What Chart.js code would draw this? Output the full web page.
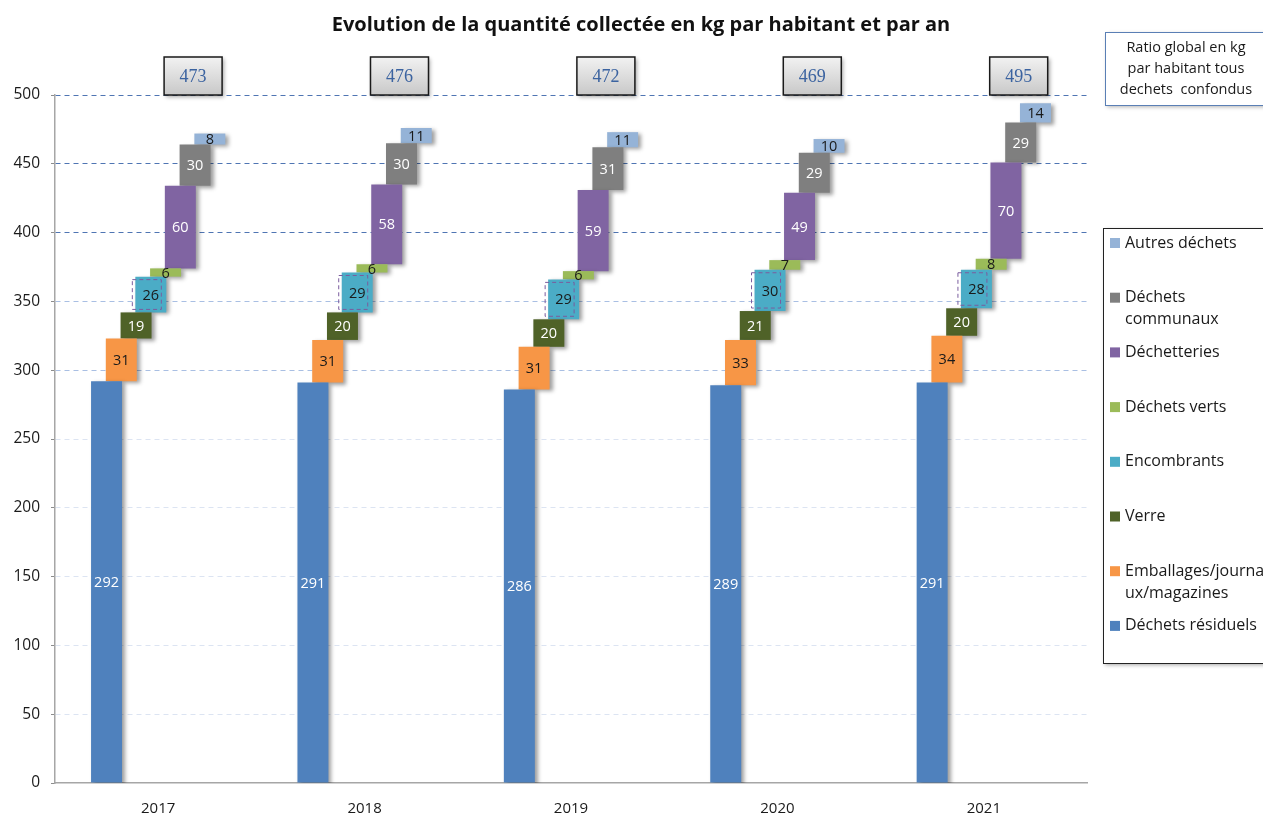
<!DOCTYPE html>
<html lang="fr">
<head>
<meta charset="utf-8">
<title>Evolution de la quantité collectée</title>
<script src="https://cdn.jsdelivr.net/npm/chart.js@4/dist/chart.umd.min.js"></script>
<style>
  html, body { margin: 0; padding: 0; background: #fff; }
  #wrap { position: relative; width: 1263px; height: 816px; }
</style>
</head>
<body>
<div id="wrap"><canvas id="chart" width="1263" height="816"></canvas></div>
<script>
// data (kg / habitant / an)
const years = ["2017", "2018", "2019", "2020", "2021"];
const residuels   = [292, 291, 286, 289, 291];
const emballages  = [31, 31, 31, 33, 34];
const verre       = [19, 20, 20, 21, 20];
const encombrants = [26, 29, 29, 30, 28];
const dechetsVerts = [6, 6, 6, 7, 8];
const dechetteries = [60, 58, 59, 49, 70];
const communaux   = [30, 30, 31, 29, 29];
const autres      = [8, 11, 11, 10, 14];
const totals      = [473, 476, 472, 469, 495];
const yTicks      = [0, 50, 100, 150, 200, 250, 300, 350, 400, 450, 500];

const seriesNames = ["Déchets résiduels", "Emballages/journaux/magazines", "Verre", "Encombrants",
  "Déchets verts", "Déchetteries", "Déchets communaux", "Autres déchets"];
const legendLines = [["Déchets résiduels"], ["Emballages/journa", "ux/magazines"], ["Verre"], ["Encombrants"],
  ["Déchets verts"], ["Déchetteries"], ["Déchets", "communaux"], ["Autres déchets"]];
const seriesValues = [residuels, emballages, verre, encombrants, dechetsVerts, dechetteries, communaux, autres];
const colors = ["#4F81BD", "#F79646", "#4F6228", "#4BACC6", "#9BBB59", "#8064A2", "#7F7F7F", "#95B3D7"];
const labelColors = ["#fff", "#1a1a1a", "#fff", "#1a1a1a", "#1a1a1a", "#fff", "#fff", "#1a1a1a"];

const FONT = "'Open Sans', 'Noto Sans', sans-serif";

// build floating bars: each step starts where the previous one ended
const datasets = seriesValues.map((vals, s) => ({
  label: seriesNames[s],
  data: vals.map((v, i) => {
    let start = 0;
    for (let k = 0; k < s; k++) start += seriesValues[k][i];
    return [start, start + v];
  }),
  backgroundColor: colors[s],
  borderWidth: 0,
  categoryPercentage: 0.572,
  barPercentage: 2.1
}));

const waterfallPlugin = {
  id: "waterfall",
  beforeDatasetsDraw(chart) {
    const ctx = chart.ctx;
    ctx.save();
    ctx.shadowColor = "rgba(0,0,0,0.38)";
    ctx.shadowBlur = 4;
    ctx.shadowOffsetX = 3;
    ctx.shadowOffsetY = 2;
  },
  afterDatasetsDraw(chart) {
    const ctx = chart.ctx;
    ctx.restore();
    const yScale = chart.scales.y;

    // value labels
    ctx.save();
    ctx.font = "14.5px " + FONT;
    ctx.textAlign = "center";
    ctx.textBaseline = "middle";
    chart.data.datasets.forEach((ds, s) => {
      const meta = chart.getDatasetMeta(s);
      meta.data.forEach((el, i) => {
        const cy = (el.y + el.base) / 2;
        if (s === 3) {
          // dashed selection frame around the "Encombrants" label
          ctx.save();
          ctx.setLineDash([4, 3]);
          ctx.strokeStyle = "#7A5C9E";
          ctx.lineWidth = 1;
          ctx.strokeRect(el.x - el.width / 2 - 3, el.y + 3, el.width - 2, el.base - el.y - 6);
          ctx.restore();
        }
        ctx.fillStyle = labelColors[s];
        ctx.fillText(String(seriesValues[s][i]), el.x, cy + 1);
      });
    });
    ctx.restore();

    // total boxes above the bars
    const top = yScale.getPixelForValue(500);
    const anchor = chart.getDatasetMeta(6);
    ctx.save();
    totals.forEach((t, i) => {
      const el = anchor.data[i];
      const w = 58, h = 38;
      const x = el.x - w / 2 - 2, y = top - h;
      ctx.save();
      ctx.shadowColor = "rgba(0,0,0,0.35)";
      ctx.shadowBlur = 4;
      ctx.shadowOffsetX = 2;
      ctx.shadowOffsetY = 2;
      const g = ctx.createLinearGradient(0, y, 0, y + h);
      g.addColorStop(0, "#F2F2F2");
      g.addColorStop(1, "#C8C8C8");
      ctx.fillStyle = g;
      ctx.fillRect(x, y, w, h);
      ctx.restore();
      ctx.strokeStyle = "#1a1a1a";
      ctx.lineWidth = 1.5;
      ctx.strokeRect(x, y, w, h);
      ctx.fillStyle = "#3B63A0";
      ctx.font = "18px 'Liberation Serif', 'DejaVu Serif', serif";
      ctx.textAlign = "center";
      ctx.textBaseline = "middle";
      ctx.fillText(String(t), x + w / 2, y + h / 2 + 1);
    });
    ctx.restore();
  },
  afterDraw(chart) {
    const ctx = chart.ctx;
    ctx.save();
    // title
    ctx.fillStyle = "#111";
    ctx.font = "bold 20px " + FONT;
    ctx.textAlign = "center";
    ctx.textBaseline = "middle";
    ctx.fillText("Evolution de la quantité collectée en kg par habitant et par an", 641, 25);

    // ratio note box
    ctx.save();
    ctx.shadowColor = "rgba(0,0,0,0.3)";
    ctx.shadowBlur = 4;
    ctx.shadowOffsetX = 2;
    ctx.shadowOffsetY = 2;
    ctx.fillStyle = "#fff";
    ctx.fillRect(1105, 32, 162, 73);
    ctx.restore();
    ctx.strokeStyle = "#5A7FB5";
    ctx.lineWidth = 1;
    ctx.strokeRect(1105.5, 32.5, 162, 73);
    ctx.fillStyle = "#1a1a1a";
    ctx.font = "14.5px " + FONT;
    ["Ratio global en kg", "par habitant tous", "dechets  confondus"].forEach((l, k) => {
      ctx.fillText(l, 1186, 48 + k * 21);
    });

    // legend box (reverse order, as in the original)
    ctx.save();
    ctx.shadowColor = "rgba(0,0,0,0.35)";
    ctx.shadowBlur = 4;
    ctx.shadowOffsetX = 2;
    ctx.shadowOffsetY = 2;
    ctx.fillStyle = "#fff";
    ctx.fillRect(1103, 228, 170, 435);
    ctx.restore();
    ctx.strokeStyle = "#222";
    ctx.lineWidth = 1;
    ctx.strokeRect(1103.5, 228.5, 170, 435);
    ctx.font = "16px " + FONT;
    ctx.textAlign = "left";
    for (let n = 0; n < seriesNames.length; n++) {
      const s = seriesNames.length - 1 - n;
      const y = 243 + n * 54.7;
      ctx.fillStyle = colors[s];
      ctx.fillRect(1110, y - 5, 10, 10);
      ctx.fillStyle = "#1a1a1a";
      legendLines[s].forEach((l, k) => ctx.fillText(l, 1125, y + k * 22));
    }
    ctx.restore();
  }
};

new Chart(document.getElementById("chart"), {
  type: "bar",
  data: { labels: years, datasets: datasets },
  options: {
    responsive: false,
    animation: false,
    layout: { padding: { left: 0, right: 176, top: 95, bottom: 0 } },
    plugins: {
      legend: { display: false },
      tooltip: { enabled: false },
      title: { display: false }
    },
    scales: {
      x: {
        afterFit(scale) { scale.height = 33; },
        grid: { display: false, drawTicks: false },
        border: { display: true, color: "#A6A6A6", width: 1.5 },
        ticks: { color: "#1a1a1a", font: { family: FONT, size: 15 }, padding: 17 }
      },
      y: {
        min: 0,
        max: 500,
        afterBuildTicks(scale) { scale.ticks = yTicks.map(v => ({ value: v })); },
        afterFit(scale) { scale.width = 55; },
        grid: {
          color: (c) => {
            const v = c.tick ? c.tick.value : 0;
            if (v === 0) return "rgba(0,0,0,0)";
            if (v >= 400) return "#4F75B3";
            if (v >= 300) return "#A9BFE3";
            return "#DCE4F2";
          },
          lineWidth: 1,
          tickColor: "#8C8C8C",
          tickLength: 4
        },
        border: { display: true, color: "#A6A6A6", width: 1.5, dash: [5, 4] },
        ticks: { color: "#1a1a1a", font: { family: FONT, size: 15.5 }, padding: 11 }
      }
    }
  },
  plugins: [waterfallPlugin]
});
</script>
</body>
</html>
